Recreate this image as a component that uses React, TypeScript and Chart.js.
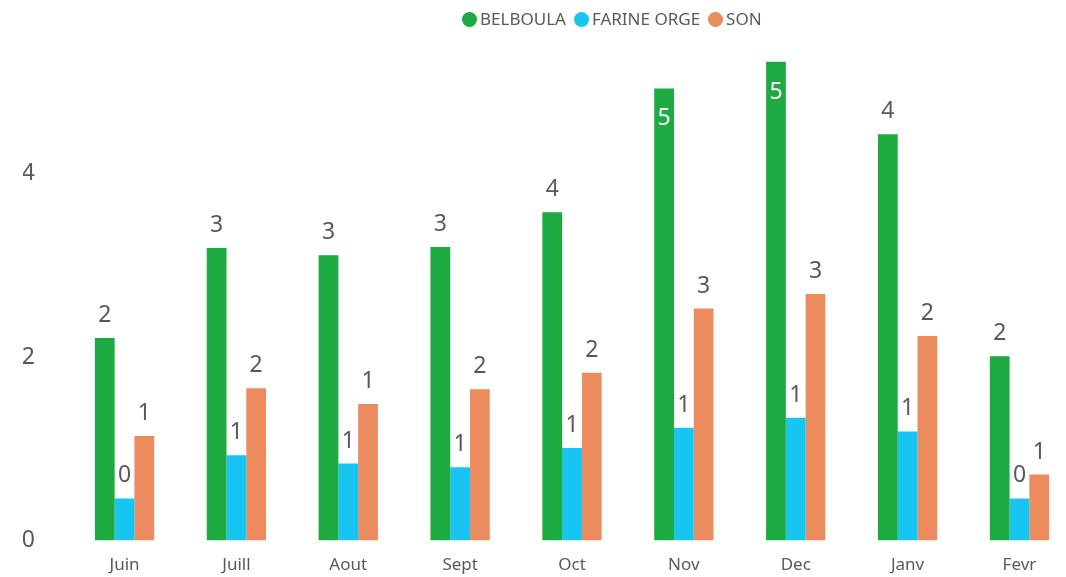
import React, { useEffect, useRef } from "react";
import { Chart, registerables } from "chart.js";

Chart.register(...registerables);

const categories = ["Juin", "Juill", "Aout", "Sept", "Oct", "Nov", "Dec", "Janv", "Fevr"];
const belboula = [2.21, 3.19, 3.11, 3.2, 3.58, 4.93, 5.22, 4.43, 2.01];
const farineOrge = [0.46, 0.93, 0.84, 0.8, 1.01, 1.23, 1.34, 1.19, 0.46];
const son = [1.14, 1.66, 1.49, 1.65, 1.83, 2.53, 2.69, 2.23, 0.72];
const yTicks = [0, 2, 4];

const seriesNames = ["BELBOULA", "FARINE ORGE", "SON"];
const colors = ["#1DAA40", "#18C4F1", "#EC8B5E"];
const textColor = "#595959";
const FONT = "'Noto Sans', 'Liberation Sans', sans-serif";

const labelPlugin = {
  id: "barLabels",
  afterDatasetsDraw(chart: any) {
    const ctx = chart.ctx;
    const area = chart.chartArea;
    ctx.save();
    ctx.font = `23px ${FONT}`;
    ctx.textAlign = "center";
    ctx.textBaseline = "alphabetic";
    chart.data.datasets.forEach((ds: any, di: number) => {
      const meta = chart.getDatasetMeta(di);
      meta.data.forEach((bar: any, i: number) => {
        const v = Math.round(ds.data[i]);
        const txt = String(v);
        if (bar.y - 40 < area.top) {
          ctx.fillStyle = "#ffffff";
          ctx.fillText(txt, bar.x, bar.y + 37);
        } else {
          ctx.fillStyle = textColor;
          ctx.fillText(txt, bar.x, bar.y - 16);
        }
      });
    });
    ctx.restore();
  },
};

export default function App() {
  const ref = useRef<HTMLCanvasElement | null>(null);

  useEffect(() => {
    if (!ref.current) return;
    const chart = new Chart(ref.current, {
      type: "bar",
      data: {
        labels: categories,
        datasets: [belboula, farineOrge, son].map((d, i) => ({
          label: seriesNames[i],
          data: d,
          backgroundColor: colors[i],
          borderWidth: 0,
          barPercentage: 1,
          categoryPercentage: 0.53,
        })),
      },
      options: {
        animation: false,
        responsive: false,
        maintainAspectRatio: false,
        layout: { padding: { left: 23, right: 24.6, top: 54.5, bottom: 0 } },
        plugins: {
          legend: { display: false },
          tooltip: { enabled: false },
        },
        scales: {
          x: {
            grid: { display: false, drawTicks: false },
            border: { display: false },
            ticks: {
              color: textColor,
              font: { family: FONT, size: 17 },
              padding: 14,
            },
          },
          y: {
            min: 0,
            max: 5.3,
            grid: { display: false, drawTicks: false },
            border: { display: false },
            afterBuildTicks: (scale: any) => {
              scale.ticks = yTicks.map((v) => ({ value: v }));
            },
            afterFit: (scale: any) => {
              scale.width = 45.6;
            },
            ticks: {
              color: textColor,
              font: { family: FONT, size: 23 },
              padding: 33.6,
            },
          },
        },
      },
      plugins: [labelPlugin],
    });
    return () => chart.destroy();
  }, []);

  return (
    <div
      style={{
        position: "fixed",
        left: 0,
        top: 0,
        width: 1066,
        height: 577,
        overflow: "hidden",
        background: "#ffffff",
      }}
    >
      <canvas ref={ref} width={1100} height={589} style={{ width: 1100, height: 589, display: "block" }} />
      <div
        style={{
          position: "absolute",
          left: 462,
          top: 8,
          display: "flex",
          alignItems: "center",
          fontFamily: FONT,
          fontSize: 17,
          color: textColor,
          whiteSpace: "nowrap",
          lineHeight: "22px",
        }}
      >
        {seriesNames.map((n, i) => (
          <div key={n} style={{ display: "flex", alignItems: "center", marginRight: 8 }}>
            <span
              style={{
                display: "inline-block",
                width: 15,
                height: 15,
                borderRadius: "50%",
                background: colors[i],
                marginRight: 3,
              }}
            />
            <span>{n}</span>
          </div>
        ))}
      </div>
    </div>
  );
}
